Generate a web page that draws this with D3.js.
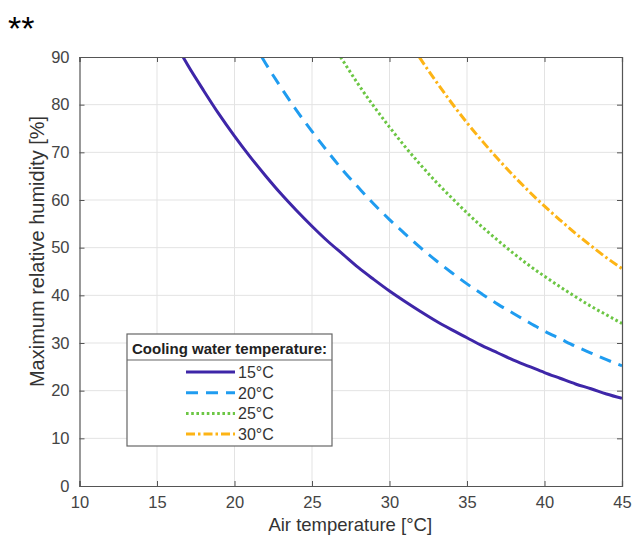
<!DOCTYPE html>
<html>
<head>
<meta charset="utf-8">
<script src="https://cdn.jsdelivr.net/npm/d3@7"></script>
<style>
html,body{margin:0;padding:0;background:#fff;}
svg{display:block;font-family:"Liberation Sans",Arial,Helvetica,sans-serif;}
</style>
</head>
<body>
<svg id="chart" width="635" height="538"></svg>
<script>
// ---- data ----
const xTicks = [10, 15, 20, 25, 30, 35, 40, 45];
const yTicks = [0, 10, 20, 30, 40, 50, 60, 70, 80, 90];
const seriesLabels = ["15°C", "20°C", "25°C", "30°C"];
const legendTitle = "Cooling water temperature:";
const xTitle = "Air temperature [°C]";
const yTitle = "Maximum relative humidity [%]";

const air15 = [16.68, 17, 18, 19, 20, 21, 22, 23, 24, 25, 26, 27, 28, 29, 30, 31, 32, 33, 34, 35, 36, 37, 38, 39, 40, 41, 42, 43, 44, 45];
const rh15  = [90, 88.2, 83.0, 78.0, 73.4, 69.1, 65.1, 61.3, 57.8, 54.5, 51.4, 48.6, 45.8, 43.3, 40.9, 38.7, 36.6, 34.6, 32.8, 31.1, 29.4, 27.9, 26.4, 25.1, 23.8, 22.6, 21.4, 20.4, 19.3, 18.4];

const air20 = [21.76, 22, 23, 24, 25, 26, 27, 28, 29, 30, 31, 32, 33, 34, 35, 36, 37, 38, 39, 40, 41, 42, 43, 44, 45];
const rh20  = [90, 88.7, 83.6, 78.8, 74.4, 70.2, 66.2, 62.6, 59.1, 55.9, 52.9, 50.0, 47.3, 44.8, 42.4, 40.2, 38.1, 36.2, 34.3, 32.5, 30.9, 29.3, 27.9, 26.5, 25.2];

const air25 = [26.84, 27, 28, 29, 30, 31, 32, 33, 34, 35, 36, 37, 38, 39, 40, 41, 42, 43, 44, 45];
const rh25  = [90, 89.2, 84.2, 79.6, 75.3, 71.2, 67.4, 63.8, 60.5, 57.3, 54.3, 51.5, 48.8, 46.3, 44.0, 41.8, 39.7, 37.7, 35.9, 34.1];

const air30 = [31.92, 32, 33, 34, 35, 36, 37, 38, 39, 40, 41, 42, 43, 44, 45];
const rh30  = [90, 89.6, 84.9, 80.4, 76.2, 72.3, 68.6, 65.1, 61.8, 58.7, 55.8, 53.0, 50.4, 47.9, 45.6];

const airSeries = [air15, air20, air25, air30];
const rhSeries = [rh15, rh20, rh25, rh30];

// ---- styles ----
const colors = ["#3e26a8", "#1f9cf0", "#6cc644", "#fdb415"];
const dashes = [null, "12,8", "2.6,2.6", "9,3,2.5,3"];

const svg = d3.select("#chart");
const m = {left: 79.5, right: 622, top: 57, bottom: 486};

const x = d3.scaleLinear().domain([10, 45]).range([m.left, m.right]);
const y = d3.scaleLinear().domain([0, 90]).range([m.bottom, m.top]);

// "**" mark
svg.append("text").attr("x", 8).attr("y", 40)
  .attr("font-size", 34).attr("fill", "#000").text("**");

// grid
const grid = svg.append("g");
grid.selectAll("line.gx").data(xTicks.slice(1, -1)).join("line")
  .attr("x1", d => x(d)).attr("x2", d => x(d))
  .attr("y1", m.top).attr("y2", m.bottom)
  .attr("stroke", "#e3e3e3").attr("stroke-width", 1);
grid.selectAll("line.gy").data(yTicks.slice(1, -1)).join("line")
  .attr("y1", d => y(d)).attr("y2", d => y(d))
  .attr("x1", m.left).attr("x2", m.right)
  .attr("stroke", "#e3e3e3").attr("stroke-width", 1);

// curves
svg.append("clipPath").attr("id", "clip").append("rect")
  .attr("x", m.left).attr("y", m.top).attr("width", m.right - m.left).attr("height", m.bottom - m.top);
const line = d3.line().x(d => x(d[0])).y(d => y(d[1])).curve(d3.curveMonotoneX);
const plot = svg.append("g").attr("clip-path", "url(#clip)");
airSeries.forEach((xs, i) => {
  const pts = xs.map((t, j) => [t, rhSeries[i][j]]);
  plot.append("path").datum(pts)
    .attr("d", line)
    .attr("fill", "none")
    .attr("stroke", colors[i])
    .attr("stroke-width", 3)
    .attr("stroke-dasharray", dashes[i]);
});

// axes
const axisColor = "#555";
const tickLen = 5;
const gxB = svg.append("g").attr("transform", `translate(0,${m.bottom})`)
  .call(d3.axisBottom(x).tickValues(xTicks).tickSize(-tickLen).tickPadding(10).tickFormat(d3.format("d")));
const gxT = svg.append("g").attr("transform", `translate(0,${m.top})`)
  .call(d3.axisTop(x).tickValues(xTicks).tickSize(-tickLen).tickFormat(""));
const gyL = svg.append("g").attr("transform", `translate(${m.left},0)`)
  .call(d3.axisLeft(y).tickValues(yTicks).tickSize(-tickLen).tickPadding(10).tickFormat(d3.format("d")));
const gyR = svg.append("g").attr("transform", `translate(${m.right},0)`)
  .call(d3.axisRight(y).tickValues(yTicks).tickSize(-tickLen).tickFormat(""));
[gxB, gxT, gyL, gyR].forEach(g => {
  g.select(".domain").attr("stroke", axisColor).attr("stroke-width", 1.2);
  g.selectAll(".tick line").attr("stroke", axisColor);
  g.selectAll("text").attr("fill", "#444").attr("font-size", 16.5)
    .attr("font-family", '"Liberation Sans",Arial,sans-serif');
});

// axis titles
svg.append("text").attr("x", (m.left + m.right) / 2 - 0.5).attr("y", 531)
  .attr("text-anchor", "middle").attr("font-size", 18.5).attr("fill", "#333").text(xTitle);
svg.append("text").attr("transform", `translate(44,${(m.top + m.bottom) / 2 - 20}) rotate(-90)`)
  .attr("text-anchor", "middle").attr("font-size", 20).attr("fill", "#333").text(yTitle);

// legend
const lg = svg.append("g");
const lb = {x: 127, y: 334, w: 205, h: 112};
lg.append("rect").attr("x", lb.x).attr("y", lb.y).attr("width", lb.w).attr("height", lb.h)
  .attr("fill", "#fff").attr("stroke", "#666").attr("stroke-width", 1.2);
lg.append("text").attr("x", lb.x + lb.w / 2).attr("y", lb.y + 20)
  .attr("text-anchor", "middle").attr("font-size", 15).attr("font-weight", "bold").attr("fill", "#222")
  .text(legendTitle);
lg.append("line").attr("x1", lb.x).attr("x2", lb.x + lb.w).attr("y1", lb.y + 26).attr("y2", lb.y + 26)
  .attr("stroke", "#666").attr("stroke-width", 1.2);
seriesLabels.forEach((lab, i) => {
  const yy = 372 + i * 20.7;
  lg.append("line").attr("x1", 186).attr("x2", 235).attr("y1", yy).attr("y2", yy)
    .attr("stroke", colors[i]).attr("stroke-width", 3).attr("stroke-dasharray", dashes[i]);
  lg.append("text").attr("x", 238).attr("y", yy + 6).attr("font-size", 16).attr("fill", "#333").text(lab);
});
</script>
</body>
</html>
